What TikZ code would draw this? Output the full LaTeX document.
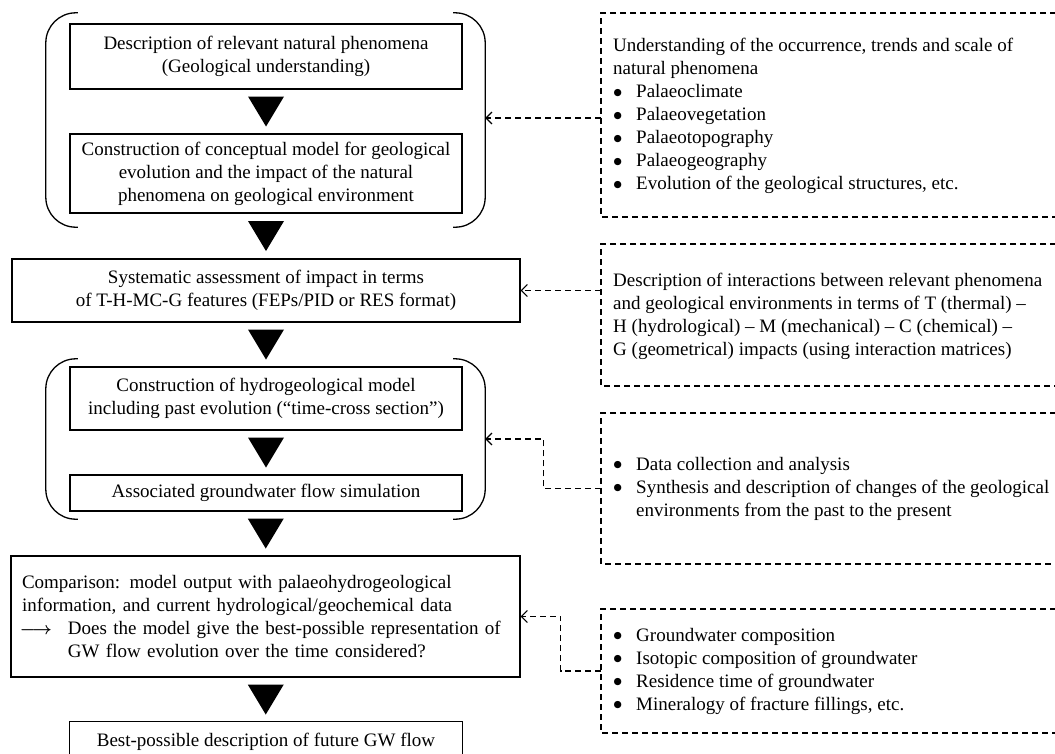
\documentclass[tikz,border=0pt]{standalone}
\usepackage{amsmath}
\usepackage{fontspec}
\setmainfont{Liberation Serif}
\newfontfamily\djv{DejaVu Sans}
\usetikzlibrary{arrows.meta,calc}
\newcommand\fs{\fontsize{19}{23}\selectfont}
\newcommand\bl{\makebox[23pt][l]{\kern0.5pt\raisebox{2.6pt}{\djv\fontsize{9.5}{9.5}\selectfont ●}}}
\newcommand\tri[2]{\fill ($(#1.south)!0.5!(#2.north)$) ++(-18,-15) -- ++(36,0) -- ++(-18,30) -- cycle;}
\tikzset{
  box/.style={draw, line width=1.3pt, align=center, inner sep=0pt, font=\fs, minimum width=392pt},
  dtext/.style={align=left, inner sep=0pt, font=\fs, anchor=west},
  frame/.style={line width=1.2pt, dash pattern=on 6pt off 4pt},
  conn/.style={frame, -{Straight Barb[length=6pt,width=12pt,line width=1.1pt]}},
  brk/.style={line width=1.3pt, rounded corners=30pt},
  grp/.style={inner sep=0pt, minimum width=439pt},
}
\begin{document}
\begin{tikzpicture}[x=1pt,y=-1pt]
\useasboundingbox (0,0) rectangle (1055,753);

% left column boxes
\node[box, minimum height=65pt] (b1) at (266,56.5) {Description of relevant natural phenomena\\(Geological understanding)};
\node[box, minimum height=79pt] (b2) at (266,173.5) {Construction of conceptual model for geological\\evolution and the impact of the natural\\phenomena on geological environment};
\node[box, minimum height=63pt, minimum width=508pt] (b3) at (266,290.5) {Systematic assessment of impact in terms\\of T-H-MC-G features (FEPs/PID or RES format)};
\node[box, minimum height=63pt] (b4) at (266,398.5) {Construction of hydrogeological model\\including past evolution (``time-cross section'')};
\node[box, minimum height=36pt] (b5) at (266,493) {Associated groundwater flow simulation};
\node[box, minimum height=121pt, minimum width=509pt, text width=487pt, inner xsep=11pt, align=left] (b6) at (265.5,616.5) {Comparison: model output with palaeohydrogeological\\information, and current hydrological/geochemical data\\\makebox[46pt][l]{\kern-2pt$\boldsymbol{\longrightarrow}$}Does the model give the best-possible representation of\\\hspace*{46pt}GW flow evolution over the time considered?};
\node[box, draw=none, minimum height=40pt] (b7) at (266,742) {Best-possible description of future GW flow};
\draw[line width=1.3pt] (b7.south west) -- (b7.north west) -- (b7.north east) -- (b7.south east);

% brackets
\node[grp, minimum height=214pt] (g1) at (265.5,120) {};
\node[grp, minimum height=160pt] (g2) at (265.5,439) {};
\foreach \g in {g1,g2}{
  \draw[brk] ($(\g.north west)+(32,0)$) -- (\g.north west) -- (\g.south west) -- ($(\g.south west)+(32,0)$);
  \draw[brk] ($(\g.north east)+(-32,0)$) -- (\g.north east) -- (\g.south east) -- ($(\g.south east)+(-32,0)$);
}

% triangles
\tri{b1}{b2}
\tri{b2}{b3}
\tri{b3}{b4}
\tri{b4}{b5}
\tri{b5}{b6}
\tri{b6}{b7}

% right dashed frames
\draw[frame] (1056,13) -- (601,13) -- (601,217) -- (1056,217);
\draw[frame] (1056,244) -- (601,244) -- (601,386) -- (1056,386);
\draw[frame] (1056,413) -- (601,413) -- (601,564) -- (1056,564);
\draw[frame] (1056,609) -- (601,609) -- (601,733) -- (1056,733);

\node[dtext] (d1) at (613,116) {Understanding of the occurrence, trends and scale of\\natural phenomena\\\bl Palaeoclimate\\\bl Palaeovegetation\\\bl Palaeotopography\\\bl Palaeogeography\\\bl Evolution of the geological structures, etc.};
\node[dtext] (d2) at (613,316) {Description of interactions between relevant phenomena\\and geological environments in terms of T (thermal) --\\H (hydrological) -- M (mechanical) -- C (chemical) --\\G (geometrical) impacts (using interaction matrices)};
\node[dtext] (d3) at (613,489) {\bl Data collection and analysis\\\bl Synthesis and description of changes of the geological\\\hspace*{23pt}environments from the past to the present};
\node[dtext] (d4) at (613,671.5) {\bl Groundwater composition\\\bl Isotopic composition of groundwater\\\bl Residence time of groundwater\\\bl Mineralogy of fracture fillings, etc.};

% connectors
\coordinate (f1) at (601,118);
\coordinate (f2) at (601,290.5);
\coordinate (f3) at (601,488.5);
\coordinate (f4) at (601,671);
\draw[conn] (f1) -- (g1.east |- f1);
\draw[conn] (f2) -- (b3.east);
\draw[conn] (f3) -| ($(f3)!0.5!(g2.east)$) |- (g2.east);
\draw[conn] (f4) -| ($(f4)!0.5!(b6.east)$) |- (b6.east);
\end{tikzpicture}
\end{document}
